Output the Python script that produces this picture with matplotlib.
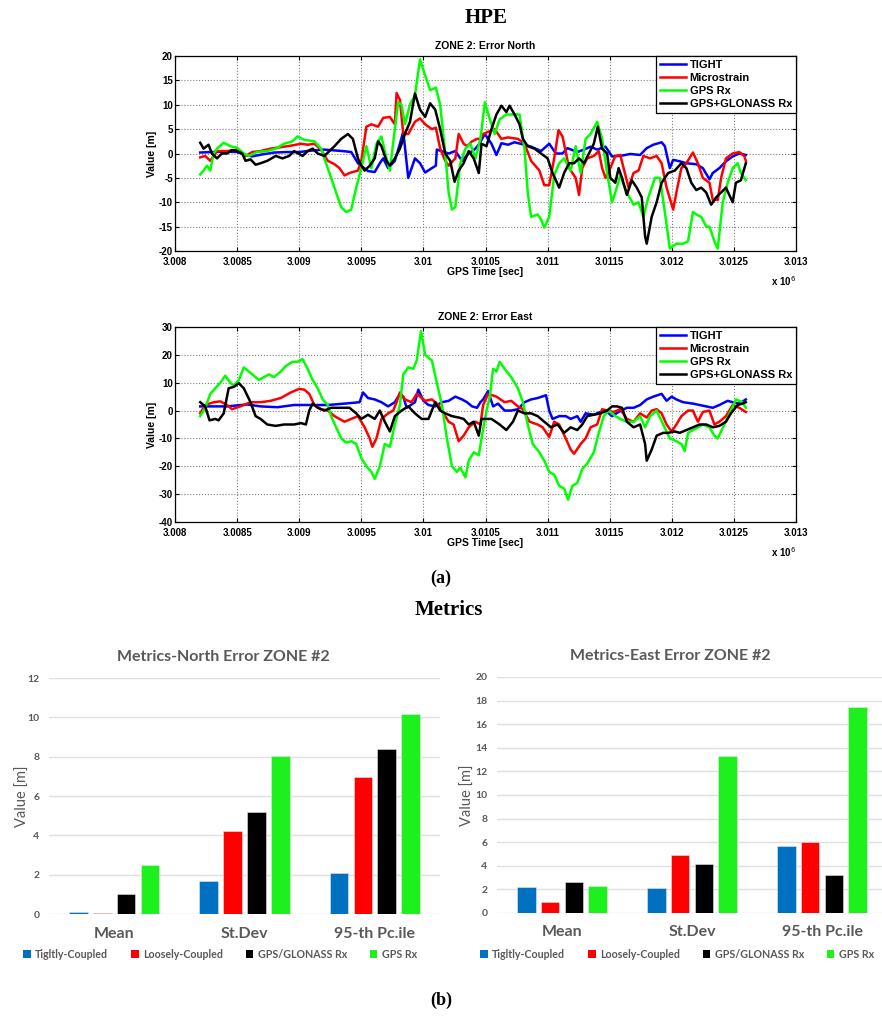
import matplotlib
matplotlib.use('Agg')
import matplotlib.pyplot as plt
from matplotlib.ticker import FuncFormatter, MultipleLocator
from matplotlib.patches import Patch

# ---- HPE time series: (GPS time [s], error [m]) ----
north_tight = [
    (3008203, 0.2), (3008300, 0.3), (3008400, 0.4), (3008500, 0.3), (3008568, -0.3), (3008620, -0.6),
    (3008700, -0.2), (3008800, 0.2), (3008900, 0.3), (3009000, 0.3), (3009100, 0.6), (3009200, 0.8),
    (3009350, 0.5), (3009419, 0.3), (3009473, -2), (3009554, -3.6), (3009608, -3.8), (3009649, -2),
    (3009676, -1), (3009716, -3), (3009770, -1.5), (3009811, 2), (3009838, 4.5), (3009878, -5),
    (3009932, -1), (3009973, -2), (3010014, -3.9), (3010068, -3), (3010100, -2.5), (3010108, 0.8),
    (3010203, 0), (3010257, 0.5), (3010311, -1.5), (3010365, 0), (3010419, 1), (3010450, 2),
    (3010495, 4), (3010548, 2), (3010588, -0.3), (3010628, 2.1), (3010681, 1.8), (3010734, 2.3),
    (3010814, 1.8), (3010867, 1.4), (3010947, 0.5), (3011013, 2), (3011067, 0), (3011120, 0),
    (3011160, 1.1), (3011239, 0.3), (3011293, 0.8), (3011346, 1.4), (3011399, 0.8), (3011466, 1.4),
    (3011519, -0.6), (3011585, -0.5), (3011665, -0.1), (3011745, -0.3), (3011798, 1.1), (3011851, 1.8),
    (3011918, 2.3), (3011944, 1.5), (3011984, -3.0), (3012011, -1.3), (3012064, -1.6), (3012117, -2),
    (3012197, -2.2), (3012250, -3), (3012303, -5.3), (3012330, -4), (3012383, -3), (3012436, -1.6),
    (3012490, -0.6), (3012543, 0), (3012596, -0.3)]
north_micro = [
    (3008203, -0.8), (3008243, -0.5), (3008284, -1.5), (3008338, 0.5), (3008419, 0.5), (3008500, 0.8),
    (3008568, -0.5), (3008622, 0.3), (3008689, 0.5), (3008770, 1), (3008851, 1.3), (3008932, 1.6),
    (3009014, 2), (3009068, 1.8), (3009122, 2), (3009176, 0.8), (3009230, -1.5), (3009284, -2.2),
    (3009324, -3), (3009365, -4.5), (3009405, -4), (3009473, -3.5), (3009500, -1.5), (3009541, 5.5),
    (3009581, 6), (3009635, 5.5), (3009676, 7.3), (3009730, 7.5), (3009770, 6), (3009784, 12.4),
    (3009811, 11), (3009838, 4), (3009878, 4), (3009932, 6.5), (3009973, 7.2), (3010014, 6),
    (3010068, 5), (3010100, 5.3), (3010135, 1), (3010176, -1.5), (3010203, -2.5), (3010257, -1),
    (3010284, 4), (3010324, 2), (3010351, 1.5), (3010392, 2.5), (3010432, 3), (3010459, 3),
    (3010481, 4), (3010574, 5), (3010628, 3), (3010681, 3.3), (3010761, 3), (3010814, 2),
    (3010867, -1.5), (3010934, -3.5), (3010973, -6.5), (3011013, -6.5), (3011053, -1), (3011088, 4.8),
    (3011120, 3.5), (3011173, -3), (3011226, -5), (3011253, -8.5), (3011279, -3), (3011319, -1),
    (3011372, -0.5), (3011412, 0.5), (3011439, -3), (3011466, -5), (3011505, -3), (3011545, -0.5),
    (3011585, -0.3), (3011652, -7), (3011692, -4), (3011732, -3.5), (3011771, -0.5), (3011825, -1),
    (3011878, -0.5), (3011918, -2), (3011958, -7), (3012011, -11.5), (3012037, -8), (3012077, -3),
    (3012117, -2), (3012170, 0.2), (3012210, -2), (3012250, -5), (3012303, -6), (3012330, -9.5),
    (3012370, -9.5), (3012397, -5), (3012436, -1), (3012490, 0), (3012543, 0.3), (3012583, -0.5),
    (3012596, -1.5)]
north_gps = [
    (3008203, -4.3), (3008230, -3.5), (3008257, -2.5), (3008284, -3.5), (3008311, 0), (3008338, 1),
    (3008392, 2.2), (3008446, 1.5), (3008500, 1.2), (3008554, 0), (3008595, -0.5), (3008662, 0.3),
    (3008743, 0.5), (3008811, 1), (3008878, 2), (3008946, 2.5), (3008986, 3.5), (3009041, 2.8),
    (3009122, 2.5), (3009176, 1), (3009216, -2), (3009257, -5), (3009297, -8), (3009338, -11),
    (3009378, -12), (3009419, -11.5), (3009459, -7), (3009500, -3), (3009541, 1.5), (3009581, -3),
    (3009622, 2), (3009662, 3.5), (3009703, -1), (3009730, -3.5), (3009770, 5), (3009797, 10.5),
    (3009824, 10), (3009851, 6), (3009892, 10), (3009932, 12), (3009973, 19.3), (3010014, 16),
    (3010054, 13), (3010100, 13.5), (3010135, 10), (3010176, 0), (3010203, -8), (3010230, -11.5),
    (3010257, -11), (3010297, -2), (3010338, 1), (3010378, 2), (3010419, -1), (3010459, 3),
    (3010495, 10.5), (3010535, 7), (3010574, 4), (3010614, 7), (3010668, 8), (3010721, 8),
    (3010774, 8), (3010814, 1), (3010840, -8), (3010867, -13), (3010920, -12.5), (3010947, -13.5),
    (3010973, -15.2), (3011013, -13), (3011053, -4.5), (3011093, -2), (3011133, -1), (3011186, -3.5),
    (3011226, 1.5), (3011266, -4), (3011306, 3), (3011346, 4), (3011399, 6.5), (3011439, 3),
    (3011479, -4), (3011519, -10), (3011545, -8), (3011585, -4.5), (3011638, -8), (3011692, -10.5),
    (3011732, -10), (3011771, -13), (3011811, -9), (3011865, -5), (3011904, -5), (3011944, -12),
    (3011984, -19.5), (3012037, -18.5), (3012091, -18.5), (3012131, -18), (3012170, -12), (3012197, -12.5),
    (3012237, -13), (3012277, -15), (3012303, -15), (3012343, -18), (3012370, -19.5), (3012410, -10),
    (3012450, -6), (3012490, -3), (3012530, -2), (3012556, -4), (3012596, -5.5)]
north_glo = [
    (3008203, 2.2), (3008230, 1), (3008270, 1.8), (3008297, 0), (3008338, -1), (3008378, 0),
    (3008419, 0), (3008459, 0.7), (3008500, 0.5), (3008541, 0), (3008568, -1.5), (3008608, -1.2),
    (3008649, -2.3), (3008689, -2), (3008743, -1.5), (3008811, -0.5), (3008865, -1), (3008919, -0.5),
    (3008959, 0.5), (3009027, -0.5), (3009068, 0.5), (3009108, 1), (3009149, 0), (3009203, -0.5),
    (3009243, 0.5), (3009284, 1.5), (3009338, 3), (3009392, 4), (3009432, 3), (3009473, -1),
    (3009500, -2.5), (3009527, -3.5), (3009568, -2.5), (3009608, -1), (3009635, 2.5), (3009662, 1.5),
    (3009703, -1.5), (3009730, -2.5), (3009770, -1), (3009811, 1), (3009851, 4), (3009892, 6.5),
    (3009932, 12.3), (3009973, 9), (3010014, 7.5), (3010054, 10.3), (3010095, 9), (3010135, 5),
    (3010176, 0), (3010216, -1.5), (3010251, -5.8), (3010284, -3.5), (3010324, -2), (3010365, 0.5),
    (3010405, -1), (3010446, -4), (3010468, 2), (3010508, 1.5), (3010548, 5), (3010588, 8),
    (3010628, 9.8), (3010668, 8.5), (3010694, 9.8), (3010734, 8), (3010774, 6), (3010801, 3),
    (3010840, 1.5), (3010894, 1), (3010947, 0), (3011000, -1), (3011040, -4), (3011093, -7),
    (3011133, -4), (3011173, -2), (3011213, -2), (3011253, -1), (3011293, -2), (3011333, 0),
    (3011372, 2), (3011404, 5.5), (3011439, 1), (3011479, 0), (3011505, -5), (3011545, -6),
    (3011572, -3), (3011599, -5), (3011638, -8.5), (3011678, -5.5), (3011718, -7), (3011758, -9),
    (3011785, -17), (3011798, -18.5), (3011838, -13), (3011878, -10), (3011918, -6), (3011971, -4),
    (3012024, -3.5), (3012077, -2), (3012117, -3), (3012157, -6), (3012197, -7.5), (3012237, -7),
    (3012277, -8), (3012317, -10.5), (3012357, -9), (3012397, -8), (3012436, -7), (3012490, -10),
    (3012516, -6), (3012556, -5.5), (3012596, -2)]

east_tight = [
    (3008203, 1.5), (3008419, 1.5), (3008581, 2.2), (3008689, 1.5), (3008824, 1.2), (3008959, 2),
    (3009095, 2), (3009230, 2), (3009365, 2.5), (3009486, 3), (3009514, 6.5), (3009554, 4.5),
    (3009608, 4), (3009662, 3), (3009716, 1.5), (3009770, 3), (3009811, 6), (3009838, 5),
    (3009865, 1), (3009932, 3), (3009959, 7.5), (3010000, 3.5), (3010041, 2), (3010095, 1.5),
    (3010149, 3), (3010203, 3.5), (3010257, 5), (3010311, 4), (3010351, 3), (3010392, 1.5),
    (3010432, 1), (3010459, 3), (3010481, 4), (3010521, 7), (3010561, 1.5), (3010601, 2.5),
    (3010654, 0), (3010707, 0), (3010761, 0.5), (3010814, 3), (3010867, 4), (3010920, 4.5),
    (3010987, 5.5), (3011013, 0), (3011040, -3), (3011093, -2), (3011146, -2), (3011186, -3),
    (3011239, -2), (3011266, -4), (3011306, -1), (3011372, -1.5), (3011426, -0.5), (3011466, 0),
    (3011519, -2), (3011572, -0.5), (3011638, 1), (3011692, 1), (3011745, 2), (3011798, 4),
    (3011851, 5), (3011918, 6), (3011958, 3.5), (3011998, 5), (3012037, 4), (3012091, 3),
    (3012170, 2.5), (3012224, 2), (3012277, 1.5), (3012330, 1), (3012383, 2), (3012450, 3.5),
    (3012490, 3), (3012543, 2.5), (3012596, 4)]
east_micro = [
    (3008203, -1), (3008243, 2), (3008311, 3), (3008365, 3.3), (3008419, 2), (3008459, 0.5),
    (3008527, 1.5), (3008608, 3), (3008689, 3), (3008770, 3.5), (3008851, 4.5), (3008932, 6.5),
    (3009000, 7.8), (3009041, 7.5), (3009081, 6), (3009122, 2), (3009176, 0.5), (3009230, 0),
    (3009284, -2), (3009324, -3), (3009365, -4), (3009419, -3), (3009473, -2), (3009527, -6),
    (3009568, -10), (3009589, -13), (3009622, -10), (3009662, -3), (3009716, -1), (3009757, 0),
    (3009784, 3), (3009811, 6.5), (3009851, 4), (3009905, 3), (3009946, 6), (3010014, 3.5),
    (3010068, 4), (3010122, 2), (3010162, -1), (3010203, -4), (3010243, -5), (3010284, -11),
    (3010324, -9), (3010365, -6), (3010419, -4), (3010459, -5), (3010481, 2), (3010521, 6),
    (3010588, 5), (3010654, 3), (3010707, 3.5), (3010761, 1.5), (3010801, 0.5), (3010854, -4),
    (3010920, -5), (3010960, -6), (3011013, -9.5), (3011053, -4), (3011093, -5), (3011146, -10),
    (3011186, -14), (3011213, -15.5), (3011266, -12), (3011306, -10), (3011346, -6), (3011399, -5),
    (3011439, 0.5), (3011479, 0), (3011532, -0.5), (3011585, 0.5), (3011638, -3), (3011692, -4),
    (3011745, -1), (3011798, -2.5), (3011838, 0), (3011878, 0.5), (3011918, -1), (3011958, -5),
    (3011998, -7.5), (3012037, -5), (3012077, -2), (3012131, 0), (3012170, 0), (3012210, -4),
    (3012250, -0.5), (3012303, 0), (3012343, -5), (3012383, -4), (3012436, -2), (3012490, 2),
    (3012543, 1), (3012596, -0.5)]
east_gps = [
    (3008203, -2), (3008243, 1), (3008284, 6), (3008324, 8), (3008365, 10), (3008405, 12.5),
    (3008446, 10), (3008473, 9), (3008514, 11), (3008554, 15.5), (3008595, 14), (3008635, 12.5),
    (3008676, 11), (3008716, 12), (3008757, 13), (3008797, 12), (3008851, 14), (3008892, 16),
    (3008946, 17.5), (3008986, 17.5), (3009027, 18.5), (3009068, 15), (3009108, 11), (3009149, 8),
    (3009189, 4), (3009230, 2), (3009257, -2), (3009297, -6), (3009338, -10), (3009378, -11.5),
    (3009419, -11), (3009459, -12), (3009500, -17), (3009541, -20), (3009581, -22), (3009608, -24.5),
    (3009649, -20), (3009689, -12), (3009730, -13), (3009770, -5), (3009811, 2), (3009838, 13),
    (3009878, 15.5), (3009919, 15), (3009946, 18), (3009981, 28.5), (3010014, 20), (3010068, 18),
    (3010108, 10), (3010149, 2), (3010189, -10), (3010230, -20), (3010270, -22), (3010297, -20.5),
    (3010338, -24), (3010365, -18), (3010405, -15), (3010446, -16), (3010468, -10), (3010508, 0),
    (3010535, 5), (3010561, 15), (3010588, 14), (3010614, 17.5), (3010654, 15), (3010707, 12),
    (3010761, 8), (3010801, 3), (3010840, -5), (3010880, -12), (3010934, -15), (3010973, -18),
    (3011013, -22), (3011053, -23), (3011093, -27), (3011133, -28), (3011165, -32), (3011200, -27),
    (3011239, -26), (3011279, -21), (3011319, -19), (3011372, -15), (3011412, -8), (3011452, -2),
    (3011492, 0), (3011545, -2), (3011585, -3), (3011638, -4), (3011692, -4), (3011745, -2),
    (3011785, -6), (3011825, -2), (3011878, 0), (3011931, -5), (3011984, -10), (3012037, -11),
    (3012077, -12), (3012104, -14.5), (3012131, -8), (3012170, -7), (3012210, -6), (3012250, -5),
    (3012303, -6), (3012343, -9), (3012370, -10), (3012423, -5), (3012476, 0), (3012516, 4),
    (3012569, 3), (3012596, 1)]
east_glo = [
    (3008203, 3), (3008243, 1.5), (3008278, -3.5), (3008324, -3), (3008351, -3.5), (3008392, -1),
    (3008432, 8), (3008473, 8.5), (3008514, 9.8), (3008554, 8), (3008608, 3), (3008649, -2),
    (3008689, -3), (3008743, -5), (3008811, -5.5), (3008878, -5), (3008959, -5), (3009014, -4.5),
    (3009054, -5), (3009081, 0), (3009108, 2.5), (3009149, 1), (3009203, 0), (3009257, 1),
    (3009338, 1), (3009405, 1), (3009459, -1), (3009500, -3), (3009554, -1.5), (3009608, -3),
    (3009649, 0), (3009689, -4), (3009730, -7.5), (3009770, -2), (3009824, 0), (3009878, 1.5),
    (3009932, -1), (3009986, -3), (3010041, -3), (3010095, 3), (3010135, 0), (3010176, -1),
    (3010230, -2), (3010284, -2.5), (3010324, -3), (3010365, -5), (3010405, -4), (3010446, -9),
    (3010468, -3), (3010548, -3), (3010614, -5), (3010668, -7), (3010721, -4), (3010761, 0),
    (3010814, -1), (3010867, -1), (3010920, -2), (3010973, -4), (3011027, -6), (3011080, -5),
    (3011133, -8), (3011186, -6), (3011239, -7), (3011279, -5), (3011319, -2), (3011372, -1.5),
    (3011426, -1), (3011479, 0), (3011519, 1.5), (3011559, 1.5), (3011599, 1), (3011638, -4),
    (3011692, -6), (3011745, -5), (3011785, -12), (3011798, -18), (3011838, -14), (3011878, -9),
    (3011931, -8), (3011971, -8), (3012024, -7.5), (3012064, -8), (3012117, -7), (3012170, -6),
    (3012224, -5), (3012277, -5), (3012330, -6), (3012383, -5.5), (3012436, -4), (3012476, -1),
    (3012530, 2), (3012569, 2.5), (3012596, 3)]

line_labels = ['TIGHT', 'Microstrain', 'GPS Rx', 'GPS+GLONASS Rx']
line_colors = ['#0000ff', '#ff0000', '#00ff00', '#000000']

# ---- Metrics bars ----
metric_names = ['Mean', 'St.Dev', '95-th Pc.ile']
bar_labels = ['Tigltly-Coupled', 'Loosely-Coupled', 'GPS/GLONASS Rx', 'GPS Rx']
bar_colors = ['#0070c0', '#ff0000', '#000000', '#1ef01e']
north_metrics = {
    'Tigltly-Coupled': [0.1, 1.7, 2.1],
    'Loosely-Coupled': [0.06, 4.24, 6.98],
    'GPS/GLONASS Rx': [1.02, 5.19, 8.39],
    'GPS Rx': [2.47, 8.05, 10.17],
}
east_metrics = {
    'Tigltly-Coupled': [2.17, 2.12, 5.64],
    'Loosely-Coupled': [0.96, 4.88, 6.04],
    'GPS/GLONASS Rx': [2.62, 4.12, 3.19],
    'GPS Rx': [2.28, 13.31, 17.46],
}

plt.rcParams['axes.unicode_minus'] = False

W, H = 882, 1019
fig = plt.figure(figsize=(W / 100, H / 100), dpi=100)
mat_font = 'Liberation Sans'
serif = 'Liberation Serif'
gray = '#595959'


def box(l, t, r, b):
    return [l / W, 1 - b / H, (r - l) / W, (b - t) / H]


def line_panel(rect, series, title, ylim, ystep):
    ax = fig.add_axes(rect)
    for s, lab, col in zip(series, line_labels, line_colors):
        ax.plot([p[0] for p in s], [p[1] for p in s], color=col, lw=1.8, label=lab)
    ax.set_xlim(3008000, 3013000)
    ax.set_ylim(*ylim)
    ax.xaxis.set_major_locator(MultipleLocator(500))
    ax.yaxis.set_major_locator(MultipleLocator(ystep))
    ax.xaxis.set_major_formatter(FuncFormatter(lambda v, p: f'{v / 1e6:g}'))
    ax.grid(True, ls=':', color='#7f7f7f', lw=0.8)
    ax.tick_params(direction='in', top=True, right=True, length=3, width=0.8, labelsize=7)
    ax.tick_params(axis='x', pad=4)
    ax.tick_params(axis='y', pad=1.5)
    for lab in ax.get_xticklabels() + ax.get_yticklabels():
        lab.set_fontfamily(mat_font)
        lab.set_fontweight('bold')
    for sp in ax.spines.values():
        sp.set_linewidth(0.9)
    ax.set_title(title, fontsize=7.5, fontweight='bold', family=mat_font, pad=5)
    ax.set_xlabel('GPS Time [sec]', fontsize=7.5, fontweight='bold', family=mat_font, labelpad=0)
    ax.set_ylabel('Value [m]', fontsize=7.5, fontweight='bold', family=mat_font, labelpad=1)
    ax.text(1.0, -0.12, r'x 10$^{6}$', transform=ax.transAxes, ha='right', va='top',
            fontsize=7, fontweight='bold', family=mat_font)
    leg = ax.legend(loc='upper right', borderaxespad=0, fancybox=False, framealpha=1,
                    edgecolor='black', handlelength=2.4, handletextpad=0.3, labelspacing=0.28,
                    borderpad=0.35, prop={'family': mat_font, 'weight': 'bold', 'size': 8})
    leg.get_frame().set_linewidth(0.9)
    return ax


line_panel(box(175, 56, 796, 251), [north_tight, north_micro, north_gps, north_glo],
           'ZONE 2: Error North', (-20, 20), 5)
line_panel(box(175, 327, 796, 522), [east_tight, east_micro, east_gps, east_glo],
           'ZONE 2: Error East', (-40, 30), 10)


def bar_panel(rect, metrics, title, ymax, label_x, legend_x):
    ax = fig.add_axes(rect)
    width, step = 0.143, 0.183
    for i, lab in enumerate(bar_labels):
        xs = [k + (i - 1.5) * step for k in range(len(metric_names))]
        ax.bar(xs, metrics[lab], width=width, color=bar_colors[i], edgecolor='#e6e6e6',
               lw=0.4, zorder=3, label=lab)
    ax.set_xlim(-0.5, 2.5)
    ax.set_ylim(0, ymax)
    ax.yaxis.set_major_locator(MultipleLocator(2))
    ax.grid(axis='y', color='#e0e0e0', lw=1.0, zorder=0)
    for sp in ax.spines.values():
        sp.set_visible(False)
    ax.tick_params(axis='both', length=0, colors=gray)
    ax.tick_params(axis='y', labelsize=7.5, pad=7)
    ax.tick_params(axis='x', labelsize=11.5, pad=9)
    ax.set_xticks(range(len(metric_names)))
    ax.set_xticklabels(metric_names)
    for lab in ax.get_xticklabels() + ax.get_yticklabels():
        lab.set_fontfamily('Lato')
        lab.set_fontweight('bold')
    ax.set_ylabel('Value [m]', fontsize=10.5, color=gray, family='Lato')
    ax.yaxis.set_label_coords(label_x, 0.5)
    ax.set_title(title, fontsize=11.5, fontweight='bold', color=gray, family='Lato', pad=12,
                 x=0.445)
    handles = [Patch(facecolor=c, edgecolor='none') for c in bar_colors]
    fig.legend(handles, bar_labels, loc='center', bbox_to_anchor=(legend_x / W, 1 - 954 / H),
               ncol=4, frameon=False, handlelength=0.7, handleheight=0.7, handletextpad=0.4,
               columnspacing=2.15,
               prop={'family': 'Lato', 'weight': 'bold', 'size': 7.7}, labelcolor=gray)
    return ax


bar_panel(box(49, 678, 440, 914), north_metrics, 'Metrics-North Error ZONE #2', 12, -0.048, 220)
bar_panel(box(497, 677, 887, 913), east_metrics, 'Metrics-East Error ZONE #2', 20, -0.056, 677)

fig.text(486 / W, 1 - 18 / H, 'HPE', ha='center', va='center', fontsize=15,
         fontweight='bold', family=serif)
fig.text(441 / W, 1 - 578 / H, '(a)', ha='center', va='center', fontsize=13,
         fontweight='bold', family=serif)
fig.text(449 / W, 1 - 610 / H, 'Metrics', ha='center', va='center', fontsize=15,
         fontweight='bold', family=serif)
fig.text(441 / W, 1 - 1000 / H, '(b)', ha='center', va='center', fontsize=13,
         fontweight='bold', family=serif)

fig.savefig('out.png', dpi=100)
